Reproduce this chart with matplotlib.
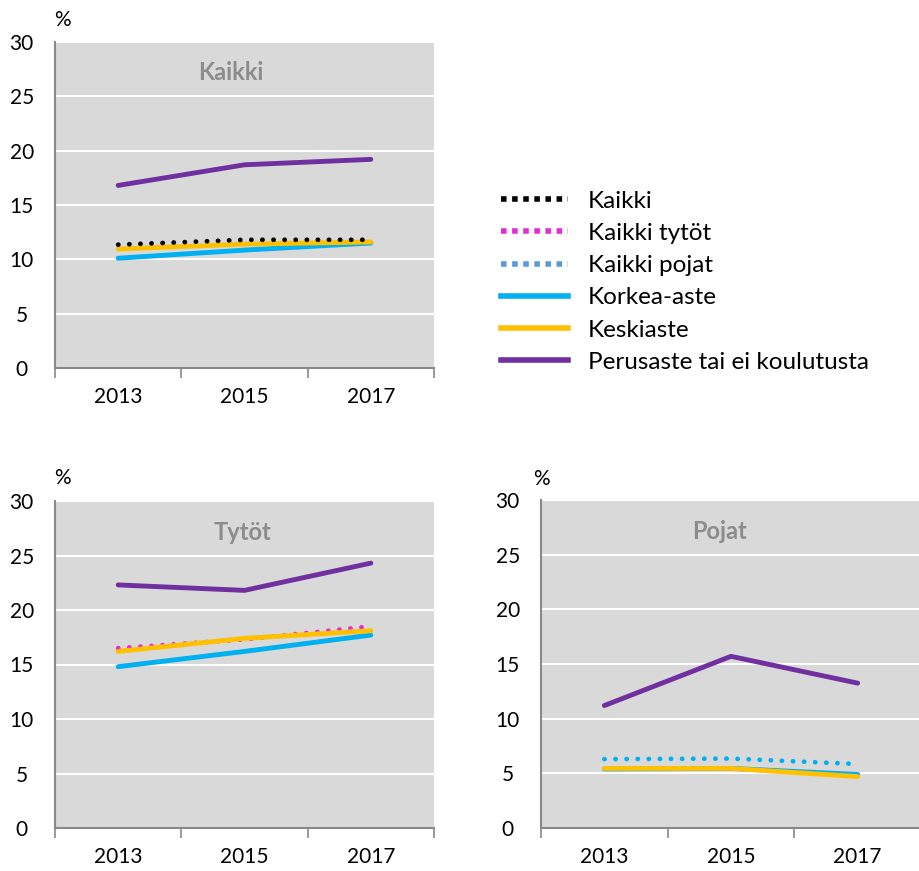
import matplotlib
matplotlib.use("Agg")
import matplotlib.pyplot as plt
from matplotlib.lines import Line2D

plt.rcParams['font.family'] = ['Lato', 'DejaVu Sans']

years = ["2013", "2015", "2017"]

# Kaikki
kaikki_all = [11.35, 11.8, 11.8]
kaikki_korkea = [10.1, 10.85, 11.5]
kaikki_keski = [10.95, 11.4, 11.6]
kaikki_perus = [16.8, 18.7, 19.2]

# Tytöt
tytot_all = [16.5, 17.3, 18.5]
tytot_korkea = [14.8, 16.2, 17.7]
tytot_keski = [16.2, 17.4, 18.1]
tytot_perus = [22.3, 21.8, 24.3]

# Pojat
pojat_all = [6.3, 6.35, 5.85]
pojat_korkea = [5.4, 5.45, 4.9]
pojat_keski = [5.45, 5.45, 4.7]
pojat_perus = [11.2, 15.7, 13.25]

labels = ["Kaikki", "Kaikki tytöt", "Kaikki pojat", "Korkea-aste", "Keskiaste",
          "Perusaste tai ei koulutusta"]

PURPLE = "#7030A0"
YELLOW = "#FFC000"
CYAN = "#00B0F0"
PINK = "#E62BD3"
LBLUE = "#5B9BD5"
BLACK = "#000000"

W, H = 919, 871
fig = plt.figure(figsize=(W / 100, H / 100), dpi=100)


def make_ax(left, top, right, bottom):
    return fig.add_axes([left / W, 1 - bottom / H, (right - left) / W, (bottom - top) / H])


def style(ax, title, title_x, pct_x, pct_y):
    ax.set_facecolor("#D9D9D9")
    ax.set_xlim(-0.5, 2.5)
    ax.set_ylim(0, 30)
    ax.set_yticks(range(0, 31, 5))
    ax.yaxis.grid(True, color="white", lw=1.5)
    ax.set_axisbelow(True)
    ax.set_xticks([-0.5, 0.5, 1.5, 2.5])
    ax.set_xticklabels([])
    ax.set_xticks([0, 1, 2], minor=True)
    ax.set_xticklabels(years, minor=True)
    ax.tick_params(axis="x", which="major", length=7, color="#898989", width=1.2)
    ax.tick_params(axis="x", which="minor", length=0, labelsize=15, pad=14)
    ax.tick_params(axis="y", length=0, labelsize=15, pad=24)
    for s in ["top", "right"]:
        ax.spines[s].set_visible(False)
    for s in ["left", "bottom"]:
        ax.spines[s].set_color("#898989")
        ax.spines[s].set_linewidth(1.5)
    for t in ax.get_yticklabels():
        t.set_horizontalalignment("center")
    ax.text(title_x, 0.905, title, transform=ax.transAxes, ha="center", va="center",
            fontsize=17, fontweight="bold", color="#8C8C8C")
    fig.text(pct_x / W, 1 - pct_y / H, "%", fontsize=15, ha="left", va="center")


dot = dict(lw=3.4, linestyle=(0, (0.05, 2.3)), dash_capstyle="round")
solid = dict(lw=3.5, solid_capstyle="round")
x = [0, 1, 2]

# top-left: Kaikki
ax1 = make_ax(55, 42, 434, 368)
style(ax1, "Kaikki", 0.465, 54, 20)
ax1.plot(x, kaikki_perus, color=PURPLE, **solid)
ax1.plot(x, kaikki_korkea, color=CYAN, **solid)
ax1.plot(x, kaikki_keski, color=YELLOW, **solid)
ax1.plot(x, kaikki_all, color=BLACK, **dot)

# bottom-left: Tytöt
ax2 = make_ax(55, 501, 434, 828)
style(ax2, "Tytöt", 0.495, 54, 478)
ax2.plot(x, tytot_perus, color=PURPLE, **solid)
ax2.plot(x, tytot_korkea, color=CYAN, **solid)
ax2.plot(x, tytot_all, color=PINK, **dot)
ax2.plot(x, tytot_keski, color=YELLOW, **solid)

# bottom-right: Pojat
ax3 = make_ax(541, 500, 921, 828)
style(ax3, "Pojat", 0.47, 533, 479)
ax3.plot(x, pojat_perus, color=PURPLE, **solid)
ax3.plot(x, pojat_all, color=CYAN, **dot)
ax3.plot(x, pojat_korkea, color=CYAN, **solid)
ax3.plot(x, pojat_keski, color=YELLOW, **solid)

# legend
sq = dict(lw=4, linestyle=(0, (1.0, 1.0)), dash_capstyle="butt")
handles = [
    Line2D([], [], color=BLACK, **sq),
    Line2D([], [], color=PINK, **sq),
    Line2D([], [], color=LBLUE, **sq),
    Line2D([], [], color=CYAN, lw=4),
    Line2D([], [], color=YELLOW, lw=4),
    Line2D([], [], color=PURPLE, lw=4),
]
fig.legend(handles, labels, loc="upper left", bbox_to_anchor=(491 / W, 1 - 181 / H),
           frameon=False, fontsize=17.5, handlelength=2.75, handletextpad=0.85,
           labelspacing=0.46, borderaxespad=0)

fig.savefig("out.png", dpi=100)
